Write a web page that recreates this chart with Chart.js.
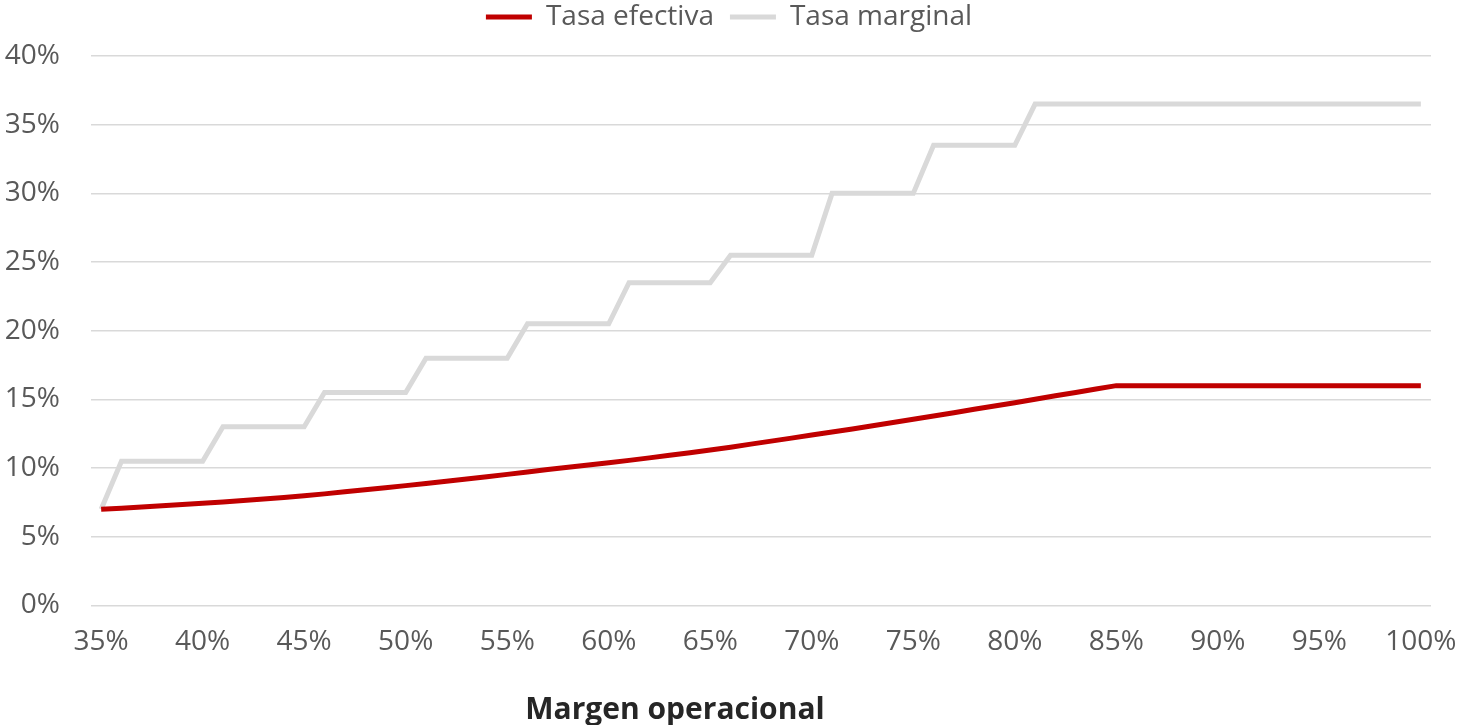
<!DOCTYPE html>
<html lang="es">
<head>
  <meta charset="UTF-8" />
  <title>Tasa efectiva vs marginal</title>
  <script src="https://cdn.jsdelivr.net/npm/chart.js"></script>
  <style>
    html, body { margin: 0; padding: 0; background: #fff; }
    .caja { position: relative; width: 1458px; height: 725px; }
    .tituloX {
      position: absolute; left: 675px; top: 687px; transform: translateX(-50%);
      font-family: 'Open Sans', 'Noto Sans', sans-serif; font-weight: bold;
      font-size: 30px; color: #262626; white-space: nowrap;
    }
  </style>
</head>
<body>
  <div class="caja">
    <canvas id="grafico"></canvas>
    <div class="tituloX">Margen operacional</div>
  </div>

<script>
// margen operacional (%)
var margen = [35, 36, 37, 38, 39, 40, 41, 42, 43, 44, 45, 46, 47, 48, 49, 50,
  51, 52, 53, 54, 55, 56, 57, 58, 59, 60, 61, 62, 63, 64, 65, 66, 67, 68, 69, 70,
  71, 72, 73, 74, 75, 76, 77, 78, 79, 80, 81, 82, 83, 84, 85, 86, 87, 88, 89, 90,
  91, 92, 93, 94, 95, 96, 97, 98, 99, 100];

// tasa efectiva (%)
var tasaEfectiva = [7.00, 7.08, 7.16, 7.25, 7.34, 7.43, 7.53, 7.64, 7.75, 7.86, 7.98,
  8.12, 8.27, 8.42, 8.57, 8.72, 8.88, 9.04, 9.20, 9.37, 9.54,
  9.72, 9.90, 10.06, 10.22, 10.38, 10.56, 10.74, 10.93, 11.12, 11.31,
  11.52, 11.74, 11.96, 12.18, 12.40, 12.62, 12.85, 13.08, 13.31, 13.55,
  13.79, 14.03, 14.28, 14.52, 14.76, 15.01, 15.26, 15.50, 15.75, 16.00,
  16, 16, 16, 16, 16, 16, 16, 16, 16, 16, 16, 16, 16, 16, 16];

// tasa marginal (%)
var tasaMarginal = [7.0, 10.5, 10.5, 10.5, 10.5, 10.5, 13, 13, 13, 13, 13,
  15.5, 15.5, 15.5, 15.5, 15.5, 18, 18, 18, 18, 18,
  20.5, 20.5, 20.5, 20.5, 20.5, 23.5, 23.5, 23.5, 23.5, 23.5,
  25.5, 25.5, 25.5, 25.5, 25.5, 30, 30, 30, 30, 30,
  33.5, 33.5, 33.5, 33.5, 33.5, 36.5, 36.5, 36.5, 36.5, 36.5,
  36.5, 36.5, 36.5, 36.5, 36.5, 36.5, 36.5, 36.5, 36.5, 36.5,
  36.5, 36.5, 36.5, 36.5, 36.5];

var ticksY = [0, 5, 10, 15, 20, 25, 30, 35, 40];

var letra = "'Open Sans', 'Noto Sans', sans-serif";
var gris = '#595959';

// espacio extra debajo de la leyenda
const margenLeyenda = {
  id: 'margenLeyenda',
  beforeInit(chart) {
    const fitOriginal = chart.legend.fit;
    chart.legend.fit = function () {
      fitOriginal.bind(chart.legend)();
      this.height += 15;
    };
  }
};

const data = {
  labels: margen,
  datasets: [{
    label: 'Tasa efectiva',
    data: tasaEfectiva,
    borderColor: '#C00000',
    backgroundColor: '#C00000',
    borderWidth: 5,
    pointRadius: 0,
    tension: 0,
    order: 1
  }, {
    label: 'Tasa marginal',
    data: tasaMarginal,
    borderColor: '#D9D9D9',
    backgroundColor: '#D9D9D9',
    borderWidth: 5,
    pointRadius: 0,
    tension: 0,
    order: 2
  }]
};

const config = {
  type: 'line',
  data: data,
  plugins: [margenLeyenda],
  options: {
    responsive: true,
    maintainAspectRatio: false,
    animation: false,
    layout: { padding: { left: 0, right: 0, top: -13, bottom: 54 } },
    plugins: {
      legend: {
        position: 'top',
        labels: {
          color: gris,
          font: { family: letra, size: 28 },
          boxWidth: 46,
          boxHeight: 5,
          padding: 16,
          generateLabels: function (chart) {
            return chart.data.datasets.map(function (ds, i) {
              return {
                text: ds.label,
                fillStyle: ds.borderColor,
                strokeStyle: ds.borderColor,
                lineWidth: 0,
                fontColor: gris,
                datasetIndex: i
              };
            });
          }
        }
      },
      tooltip: { enabled: false }
    },
    scales: {
      x: {
        offset: true,
        grid: { display: false },
        border: { display: false },
        afterFit: function (axis) {
          axis.paddingLeft = 0;
          axis.paddingRight = 27;
        },
        ticks: {
          color: gris,
          font: { family: letra, size: 28 },
          autoSkip: false,
          maxRotation: 0,
          padding: 12,
          callback: function (val, i) {
            var m = margen[i];
            return (m % 5 === 0) ? m + '%' : '';
          }
        }
      },
      y: {
        min: 0,
        max: 40,
        afterBuildTicks: function (axis) {
          axis.ticks = ticksY.map(function (v) { return { value: v }; });
        },
        afterFit: function (axis) {
          axis.width = 91;
        },
        grid: { color: '#D9D9D9', lineWidth: 1.5, drawTicks: false },
        border: { display: false },
        ticks: {
          color: gris,
          font: { family: letra, size: 28 },
          padding: 31,
          callback: function (v) { return v + '%'; }
        }
      }
    }
  }
};

new Chart(document.getElementById('grafico'), config);
</script>
</body>
</html>
